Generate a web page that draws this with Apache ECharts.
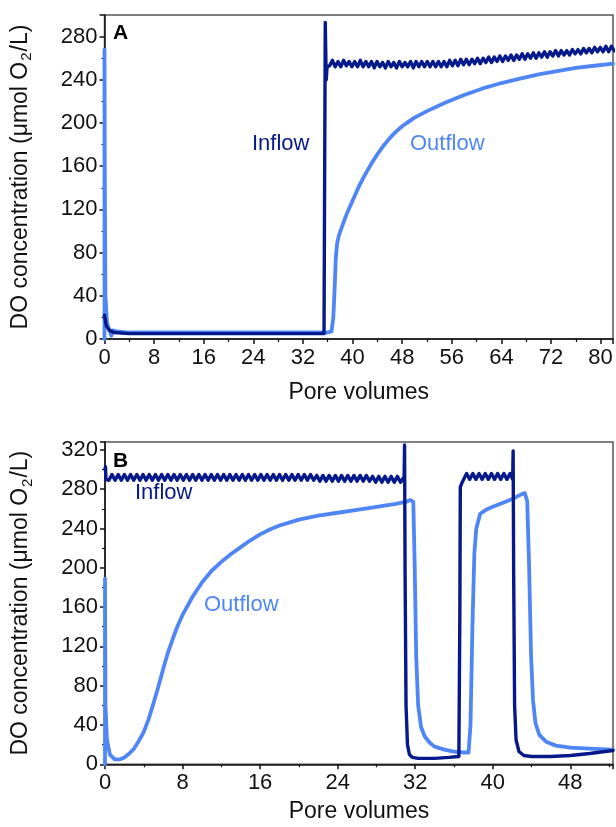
<!DOCTYPE html>
<html><head><meta charset="utf-8">
<script src="https://cdn.jsdelivr.net/npm/echarts@6/dist/echarts.min.js"></script>
<style>html,body{margin:0;padding:0;background:#fff}#c{width:616px;height:827px}</style>
</head><body><div id="c"></div>
<script>
// ---- Panel A data ----
var xTicksA = [0, 8, 16, 24, 32, 40, 48, 56, 64, 72, 80];
var yTicksA = [0, 40, 80, 120, 160, 200, 240, 280];
var inflowA = [[0,22],[0.3,12],[0.8,8],[1.5,6],[4,5],[10,5],[20,5],[30,5],[35.4,5],[35.5,150],[35.6,293],[35.75,240],[35.9,252],
[36.3,253],[36.75,258],[37.2,252],[37.65,257],[38.1,252],[38.55,258],[39.0,253],[39.45,257],[39.9,252],[40.35,257],[40.8,252],[41.25,258],[41.7,252],[42.15,257],[42.6,252],[43.05,257],[43.5,251],[43.95,257],[44.4,252],[44.85,256],[45.3,251],[45.75,257],[46.2,252],[46.65,256],[47.1,251],[47.55,257],[48.0,252],[48.45,256],[48.9,252],[49.35,257],[49.8,251],[50.25,257],[50.7,252],[51.15,257],[51.6,252],[52.05,257],[52.5,252],[52.95,257],[53.4,252],[53.85,257],[54.3,252],[54.75,257],[55.2,252],[55.65,258],[56.1,253],[56.55,258],[57.0,253],[57.45,259],[57.9,254],[58.35,259],[58.8,254],[59.25,259],[59.7,255],[60.15,260],[60.6,255],[61.05,260],[61.5,256],[61.95,261],[62.4,256],[62.85,261],[63.3,257],[63.75,262],[64.2,257],[64.65,262],[65.1,258],[65.55,263],[66.0,258],[66.45,263],[66.9,259],[67.35,264],[67.8,259],[68.25,264],[68.7,260],[69.15,265],[69.6,260],[70.05,265],[70.5,261],[70.95,266],[71.4,261],[71.85,266],[72.3,262],[72.75,267],[73.2,262],[73.65,267],[74.1,263],[74.55,267],[75.0,263],[75.45,268],[75.9,264],[76.35,268],[76.8,264],[77.25,269],[77.7,265],[78.15,269],[78.6,265],[79.05,270],[79.5,266],[79.95,270],[80.4,266],[80.85,271],[81.3,266],[81.75,271],[82.2,267]];
var outflowA = [[0,0],[0,268],[0.05,150],[0.15,40],[0.4,15],[0.8,8],[1.1,3],[1.3,8],[2,7],[4,6],[10,6],[20,6],[30,6],[36,6],[36.6,7],[36.9,20],[37.1,45],[37.3,75],[37.5,88],[37.8,96],[38.3,104],[39,115],[40,128],[41,141],[42,152],[43,162],[44,171],[45,179],[46,186],[47,192],[48,197],[49,201],[50,205],[52,211],[55,219],[58,226],[61,232],[64,237],[67,241],[70,245],[73,248],[76,251],[79,253],[82,255]];

// ---- Panel B data ----
var xTicksB = [0, 8, 16, 24, 32, 40, 48];
var yTicksB = [0, 40, 80, 120, 160, 200, 240, 280, 320];
var inflowB = [[0,300],[0.05,303],[0.1,290],[0.25,292],
[0.4,289],[0.72,295],[1.04,289],[1.36,295],[1.68,289],[2.0,295],[2.32,289],[2.64,295],[2.96,289],[3.28,295],[3.6,289],[3.92,295],[4.24,289],[4.56,295],[4.88,289],[5.2,295],[5.52,289],[5.84,295],[6.16,289],[6.48,295],[6.8,289],[7.12,295],[7.44,289],[7.76,295],[8.08,289],[8.4,295],[8.72,289],[9.04,295],[9.36,289],[9.68,295],[10.0,289],[10.32,295],[10.64,289],[10.96,295],[11.28,289],[11.6,295],[11.92,289],[12.24,295],[12.56,289],[12.88,295],[13.2,289],[13.52,295],[13.84,289],[14.16,295],[14.48,289],[14.8,295],[15.12,289],[15.44,295],[15.76,289],[16.08,295],[16.4,289],[16.72,295],[17.04,289],[17.36,295],[17.68,289],[18.0,295],[18.32,289],[18.64,295],[18.96,289],[19.28,295],[19.6,289],[19.92,295],[20.24,289],[20.56,295],[20.88,289],[21.2,295],[21.52,289],[21.84,294],[22.16,288],[22.48,294],[22.8,288],[23.12,294],[23.44,288],[23.76,294],[24.08,288],[24.4,294],[24.72,288],[25.04,294],[25.36,288],[25.68,294],[26.0,288],[26.32,294],[26.64,288],[26.96,294],[27.28,288],[27.6,293],[27.92,287],[28.24,293],[28.56,287],[28.88,293],[29.2,287],[29.52,293],[29.84,287],[30.16,293],[30.48,287],[30.8,292],
[30.85,288],[30.9,325],[30.95,200],[31.05,60],[31.2,20],[31.4,10],[31.7,7],[32.3,6],[34,6],[35.5,7],[36.5,8],[36.6,150],[36.65,282],[36.8,286],[37.0,290],
[37.3,296],[37.62,290],[37.94,296],[38.26,290],[38.58,296],[38.9,290],[39.22,296],[39.54,290],[39.86,296],[40.18,290],[40.5,296],[40.82,290],[41.14,296],[41.46,290],[41.78,296],
[42.05,290],[42.1,319],[42.15,200],[42.25,60],[42.4,25],[42.7,13],[43.2,9],[44,8],[46,8],[48,9],[50,11],[52.4,14]];
var outflowB = [[0,0],[0,189],[0.05,60],[0.2,25],[0.5,10],[1.0,5],[1.5,5],[2,7],[2.5,11],[3,16],[3.5,24],[4,33],[4.5,46],[5,62],[5.5,79],[6,97],[6.5,114],[7,128],[7.5,141],[8,152],[9,170],[10,185],[11,197],[12,206],[13,214],[14,221],[15,228],[16,234],[17,239],[18,243],[19,246],[20,249],[22,253],[24,256],[26,259],[28,262],[30,265],[31,267],[31.5,269],[31.8,267],[31.95,200],[32.1,110],[32.3,60],[32.6,38],[33,28],[33.5,22],[34,18],[35,15],[36,13],[37,12],[37.5,12],[37.7,40],[37.9,140],[38.1,215],[38.3,240],[38.7,255],[39.3,259],[40,262],[41,266],[42,270],[43,275],[43.3,276],[43.55,268],[43.75,200],[43.95,110],[44.15,65],[44.4,42],[44.8,30],[45.5,23],[46.5,19],[48,17],[50,16],[52.4,15]];

var DARK = '#06198a', LIGHT = '#4f86f5';
var FONT = '"Liberation Sans", Arial, sans-serif';

var chart = echarts.init(document.getElementById('c'), null, {renderer: 'canvas'});

function yName() { return '{a|DO concentration (μmol O}{s|2}{a|/L)}'; }
var nameRich = {
  a: {fontSize: 23, fontFamily: FONT, color: '#111', lineHeight: 28},
  s: {fontSize: 15, fontFamily: FONT, color: '#111', verticalAlign: 'bottom', lineHeight: 15, padding: [0, 1, 0, 1]}
};
function xAxisCfg(idx, max, ticks, gap) {
  return {
    type: 'value', gridIndex: idx, min: 0, max: max, interval: 8,
    name: 'Pore volumes', nameLocation: 'middle', nameGap: gap,
    nameTextStyle: {fontSize: 23, fontFamily: FONT, color: '#111'},
    axisLine: {show: true, onZero: false, lineStyle: {color: '#111', width: 1.5}},
    axisTick: {show: true, length: 5, lineStyle: {color: '#111', width: 1.5}},
    minorTick: {show: true, splitNumber: 2, length: 3, lineStyle: {color: '#111', width: 1.2}},
    splitLine: {show: false},
    axisLabel: {fontSize: 22, fontFamily: FONT, color: '#111', margin: 8,
      formatter: function (v) { return ticks.indexOf(v) >= 0 ? String(v) : ''; }}
  };
}
function yAxisCfg(idx, max, ticks) {
  return {
    type: 'value', gridIndex: idx, min: 0, max: max, interval: 40,
    name: yName(), nameLocation: 'middle', nameGap: 70, nameRotate: 90,
    nameTextStyle: {rich: nameRich},
    axisLine: {show: true, onZero: false, lineStyle: {color: '#111', width: 1.5}},
    axisTick: {show: true, length: 5, lineStyle: {color: '#111', width: 1.5}},
    minorTick: {show: true, splitNumber: 2, length: 3, lineStyle: {color: '#111', width: 1.2}},
    splitLine: {show: false},
    axisLabel: {fontSize: 22, fontFamily: FONT, color: '#111', margin: 7,
      formatter: function (v) { return ticks.indexOf(v) >= 0 ? String(v) : ''; }}
  };
}
function line(name, data, color, xi, w) {
  return {type: 'line', name: name, data: data, xAxisIndex: xi, yAxisIndex: xi,
    showSymbol: false, symbol: 'none', clip: true, animation: false,
    lineStyle: {color: color, width: w, join: 'round', cap: 'round'}, z: color === DARK ? 3 : 2};
}

chart.setOption({
  animation: false,
  backgroundColor: '#fff',
  grid: [
    {left: 104.5, top: 15, width: 510.5, height: 324, show: true, borderColor: '#555', borderWidth: 1.5, backgroundColor: 'transparent'},
    {left: 105, top: 442, width: 510, height: 322.3, show: true, borderColor: '#555', borderWidth: 1.5, backgroundColor: 'transparent'}
  ],
  xAxis: [xAxisCfg(0, 82, xTicksA, 42), xAxisCfg(1, 52.4, xTicksB, 36)],
  yAxis: [yAxisCfg(0, 300, yTicksA), yAxisCfg(1, 328, yTicksB)],
  series: [
    line('Outflow', outflowA, LIGHT, 0, 3.8),
    line('Inflow', inflowA, DARK, 0, 3.4),
    line('Outflow', outflowB, LIGHT, 1, 3.8),
    line('Inflow', inflowB, DARK, 1, 3.4)
  ],
  graphic: [
    {type: 'text', left: 113, top: 23, style: {text: 'A', font: 'bold 21px ' + FONT, fill: '#000'}},
    {type: 'text', left: 113, top: 451, style: {text: 'B', font: 'bold 21px ' + FONT, fill: '#000'}},
    {type: 'text', left: 252, top: 133, style: {text: 'Inflow', font: '22px ' + FONT, fill: DARK}},
    {type: 'text', left: 410, top: 133, style: {text: 'Outflow', font: '22px ' + FONT, fill: LIGHT}},
    {type: 'text', left: 135, top: 482, style: {text: 'Inflow', font: '22px ' + FONT, fill: DARK}},
    {type: 'text', left: 204, top: 594, style: {text: 'Outflow', font: '22px ' + FONT, fill: LIGHT}}
  ]
});
</script></body></html>
